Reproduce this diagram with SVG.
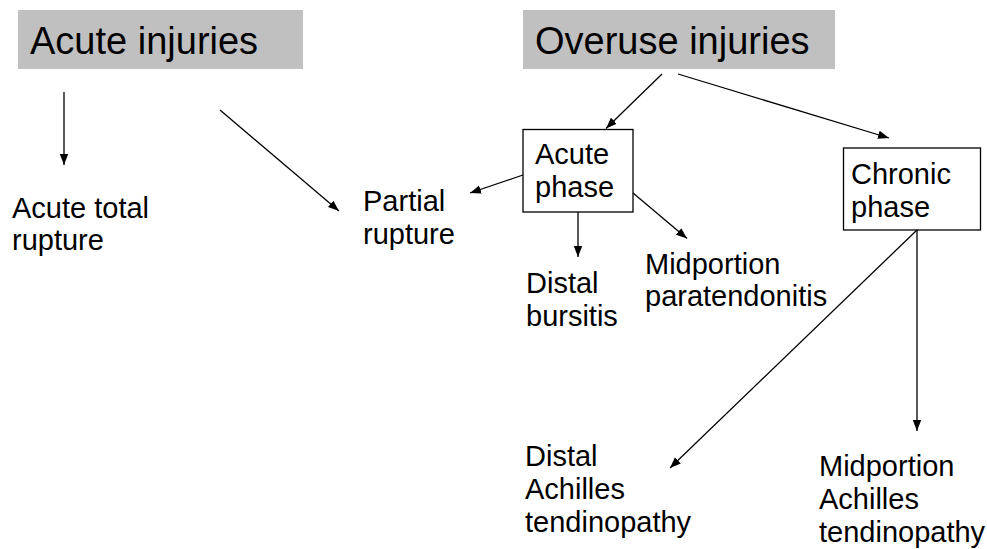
<svg xmlns="http://www.w3.org/2000/svg" width="987" height="549" viewBox="0 0 987 549">
<style>
text{font-family:"Liberation Sans",Arial,sans-serif;fill:#000}
.t{font-size:38px}
.b{font-size:29px}
.hdr{fill:#c0c0c0;stroke:none}
.box{fill:#fff;stroke:#000;stroke-width:1.3}
.c{stroke:#000;stroke-width:1.3;fill:none;marker-end:url(#ah)}
</style>
<defs>
<marker id="ah" markerUnits="userSpaceOnUse" markerWidth="12" markerHeight="10" refX="11" refY="5" orient="auto">
<path d="M0,0.8 L11,5 L0,9.2 Z" fill="#000"/>
</marker>
</defs>
<rect width="987" height="549" fill="#fff"/>
<g id="acute-injuries"><rect class="hdr" x="18" y="10" width="285" height="59"/><text class="t" x="30" y="54">Acute injuries</text></g>
<g id="overuse-injuries"><rect class="hdr" x="523" y="10" width="312" height="59"/><text class="t" x="535" y="54">Overuse injuries</text></g>
<g id="acute-total-rupture"><text class="b" x="12" y="218">Acute total</text><text class="b" x="12" y="250">rupture</text></g>
<g id="partial-rupture"><text class="b" x="363" y="211">Partial</text><text class="b" x="363" y="244">rupture</text></g>
<g id="acute-phase"><rect class="box" x="523" y="129.5" width="110" height="82.5"/><text class="b" x="535" y="164">Acute</text><text class="b" x="535" y="197">phase</text></g>
<g id="chronic-phase"><rect class="box" x="843.5" y="148" width="137" height="82"/><text class="b" x="851" y="184">Chronic</text><text class="b" x="851" y="217">phase</text></g>
<g id="distal-bursitis"><text class="b" x="526" y="293">Distal</text><text class="b" x="526" y="326">bursitis</text></g>
<g id="midportion-paratendonitis"><text class="b" x="645" y="274">Midportion</text><text class="b" x="645" y="306">paratendonitis</text></g>
<g id="distal-achilles"><text class="b" x="525" y="466">Distal</text><text class="b" x="525" y="499">Achilles</text><text class="b" x="525" y="532">tendinopathy</text></g>
<g id="midportion-achilles"><text class="b" x="819" y="476">Midportion</text><text class="b" x="819" y="509">Achilles</text><text class="b" x="819" y="542">tendinopathy</text></g>
<g id="connectors">
<line class="c" x1="64" y1="92" x2="64" y2="165"/>
<line class="c" x1="220" y1="110" x2="339" y2="211"/>
<line class="c" x1="523" y1="175" x2="470" y2="193"/>
<line class="c" x1="662" y1="74" x2="606" y2="128.5"/>
<line class="c" x1="678" y1="74" x2="889" y2="138"/>
<line class="c" x1="578" y1="212" x2="578" y2="257"/>
<line class="c" x1="633" y1="193" x2="687" y2="238.5"/>
<line class="c" x1="917" y1="230" x2="670" y2="468"/>
<line class="c" x1="917" y1="230" x2="917" y2="431"/>
</g>
</svg>
